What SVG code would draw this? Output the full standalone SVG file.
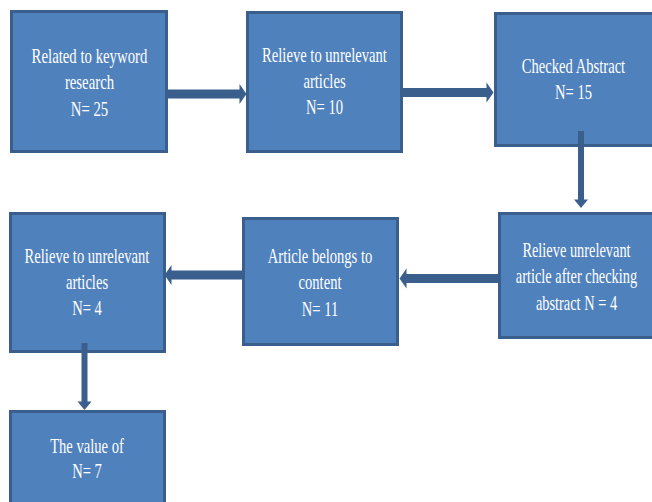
<svg xmlns="http://www.w3.org/2000/svg" width="652" height="502" viewBox="0 0 652 502">
<style>
.box{fill:#4F81BD;stroke:#3A5F8D;stroke-width:3}
.t{font-family:"Liberation Serif","Times New Roman",serif;font-size:20px;fill:#FFFFFF;text-anchor:middle}
.c{stroke:#3A5F8D;fill:none}
.h{stroke-width:9}
.v{stroke-width:6}
</style>
<defs>
<marker id="ah" markerUnits="userSpaceOnUse" markerWidth="8" markerHeight="20" refX="0.5" refY="10" orient="auto" overflow="visible">
<path d="M0,0 L7,10 L0,20 Z" fill="#3A5F8D"/>
</marker>
<marker id="av" markerUnits="userSpaceOnUse" markerWidth="9" markerHeight="14" refX="0.5" refY="7" orient="auto" overflow="visible">
<path d="M0,0 L8.5,7 L0,14 Z" fill="#3A5F8D"/>
</marker>
</defs>
<rect width="652" height="502" fill="#FFFFFF"/>
<g id="n1">
<rect class="box" x="11.5" y="11.5" width="155" height="140"/>
<text class="t" transform="translate(89.5,0) scale(0.74,1)"><tspan x="0" y="63">Related to keyword</tspan><tspan x="0" y="89">research</tspan><tspan x="0" y="116">N= 25</tspan></text>
</g>
<g id="n2">
<rect class="box" x="247.5" y="12.5" width="154" height="139"/>
<text class="t" transform="translate(324.5,0) scale(0.73,1)"><tspan x="0" y="62">Relieve to unrelevant</tspan><tspan x="0" y="88">articles</tspan><tspan x="0" y="114">N= 10</tspan></text>
</g>
<g id="n3">
<rect class="box" x="495.5" y="13.5" width="160" height="132"/>
<text class="t" transform="translate(573.5,0) scale(0.73,1)"><tspan x="0" y="73">Checked Abstract</tspan><tspan x="0" y="99">N= 15</tspan></text>
</g>
<g id="n4">
<rect class="box" x="499.5" y="213.5" width="156" height="124"/>
<text class="t" transform="translate(576.5,0) scale(0.72,1)"><tspan x="0" y="257">Relieve unrelevant</tspan><tspan x="0" y="283">article after checking</tspan><tspan x="0" y="310">abstract N = 4</tspan></text>
</g>
<g id="n5">
<rect class="box" x="243.5" y="218.5" width="154" height="126"/>
<text class="t" transform="translate(320,0) scale(0.73,1)"><tspan x="0" y="263">Article belongs to</tspan><tspan x="0" y="289">content</tspan><tspan x="0" y="316">N= 11</tspan></text>
</g>
<g id="n6">
<rect class="box" x="10.5" y="213.5" width="154" height="138"/>
<text class="t" transform="translate(87,0) scale(0.73,1)"><tspan x="0" y="263">Relieve to unrelevant</tspan><tspan x="0" y="289">articles</tspan><tspan x="0" y="315">N= 4</tspan></text>
</g>
<g id="n7">
<rect class="box" x="10.5" y="411.5" width="154" height="100"/>
<text class="t" transform="translate(87,0) scale(0.73,1)"><tspan x="0" y="453">The value of</tspan><tspan x="0" y="478">N= 7</tspan></text>
</g>
<g id="connectors">
<line class="c h" x1="168" y1="94" x2="240" y2="94" marker-end="url(#ah)"/>
<line class="c h" x1="403" y1="92.5" x2="487" y2="92.5" marker-end="url(#ah)"/>
<line class="c v" x1="581" y1="131" x2="581" y2="200" marker-end="url(#av)"/>
<line class="c h" x1="498" y1="278.5" x2="406" y2="278.5" marker-end="url(#ah)"/>
<line class="c h" x1="242" y1="275" x2="171" y2="275" marker-end="url(#ah)"/>
<line class="c v" x1="84.5" y1="343" x2="84.5" y2="402" marker-end="url(#av)"/>
</g>
</svg>
